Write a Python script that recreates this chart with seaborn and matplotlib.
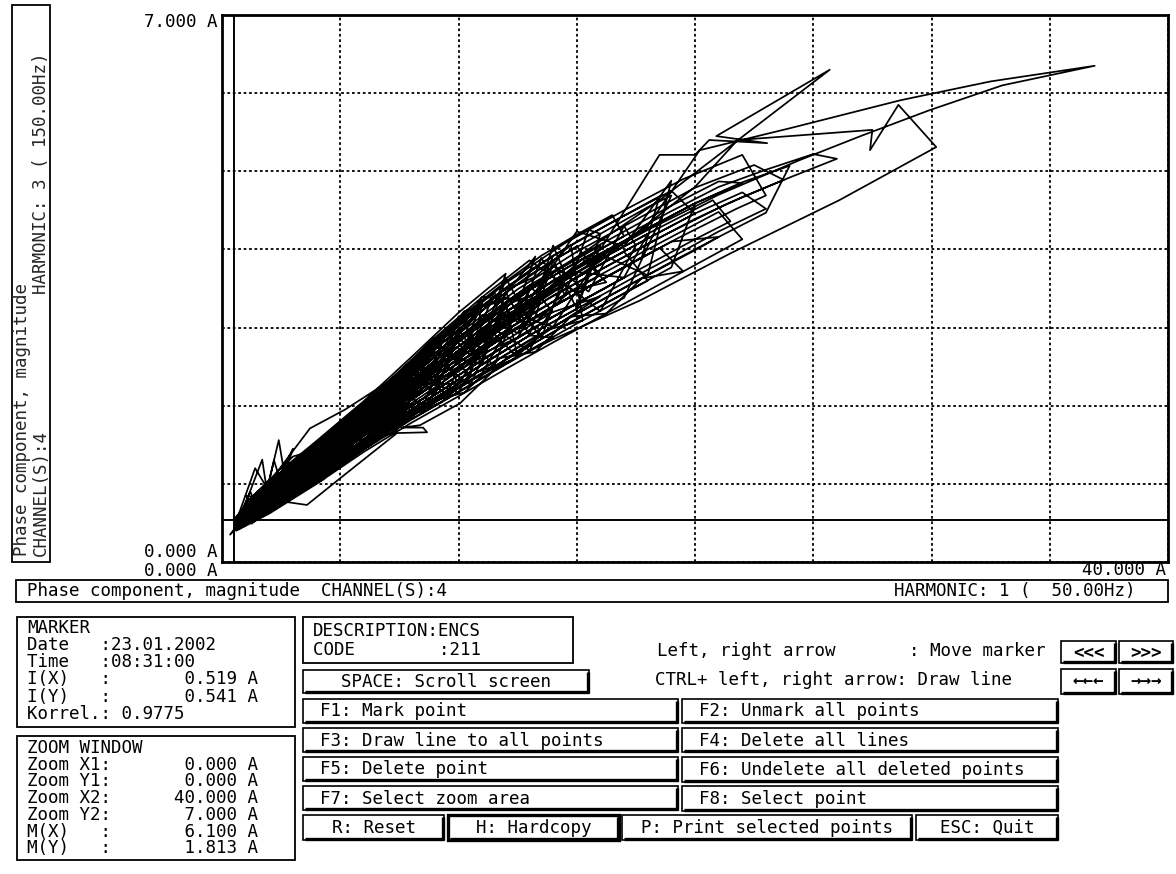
import numpy as np
import pandas as pd
import matplotlib
matplotlib.use("Agg")
import matplotlib.pyplot as plt
from matplotlib.patches import Rectangle
import seaborn as sns

# ---------------- data (A) : harmonic 1 current (x) vs harmonic 3 current (y) ----------------
day_01 = ([0.6, 2, 4, 6, 8, 10, 9, 7, 5, 3, 1.5],
          [0.56, 1.00, 1.50, 2.00, 2.54, 3.09, 2.53, 2.04, 1.56, 1.10, 0.76])
day_02 = ([0.6, 2, 4, 6, 8, 10, 12, 14, 13, 11, 9, 7, 5, 3, 1.5],
          [0.45, 0.75, 1.17, 1.61, 2.03, 2.44, 2.84, 3.20, 3.54, 3.11, 2.63, 2.11, 1.62, 1.15, 0.80])
day_03 = ([0.6, 2, 4, 6, 8, 10, 12, 14, 16, 18, 17, 15, 13, 11, 9, 7, 5, 3, 1.5],
          [0.42, 0.66, 1.06, 1.48, 1.86, 2.23, 2.59, 2.94, 3.27, 3.60, 3.97, 3.64, 3.29, 2.88, 2.44, 1.97, 1.50, 1.05, 0.73])
day_04 = ([0.6, 2, 4, 6, 8, 10, 12, 14, 16, 15, 13, 11, 9, 7, 5, 3, 1.5],
          [0.53, 0.92, 1.39, 1.87, 2.37, 2.87, 3.32, 3.70, 4.05, 3.24, 2.90, 2.53, 2.14, 1.76, 1.32, 0.90, 0.61])
day_05 = ([0.6, 2, 4, 6, 8, 10, 12, 14, 16, 18, 20, 19, 17, 15, 13, 11, 9, 7, 5, 3, 1.5],
          [0.49, 0.84, 1.28, 1.74, 2.20, 2.66, 3.08, 3.47, 3.81, 4.14, 4.46, 4.75, 4.43, 4.10, 3.73, 3.28, 2.77, 2.22, 1.71, 1.23, 0.86])
day_06 = ([0.6, 2, 4, 6, 8, 10, 12, 14, 16, 18, 20, 22, 21, 19, 17, 15, 13, 11, 9, 7, 5, 3, 1.5],
          [0.40, 0.62, 1.00, 1.41, 1.78, 2.12, 2.47, 2.81, 3.14, 3.47, 3.80, 4.13, 4.48, 4.16, 3.84, 3.51, 3.16, 2.76, 2.34, 1.90, 1.44, 1.00, 0.69])
day_07 = ([0.6, 2, 2.4, 2.6, 4, 6, 8, 10, 12, 11, 9, 7, 5, 3, 1.5],
          [0.58, 1.05, 1.56, 1.20, 1.55, 2.06, 2.62, 3.19, 3.69, 2.82, 2.39, 1.94, 1.47, 1.03, 0.71])
day_08 = ([0.6, 2, 4, 6, 8, 10, 12, 14, 16, 18, 20, 22, 24, 23, 21, 19, 17, 15, 13, 11, 9, 7, 5, 3, 1.5],
          [0.51, 0.88, 1.33, 1.80, 2.28, 2.76, 3.20, 3.60, 3.95, 4.27, 4.59, 4.86, 5.07, 4.47, 4.16, 3.84, 3.51, 3.18, 2.84, 2.47, 2.10, 1.73, 1.29, 0.88, 0.59])
day_09 = ([0.6, 2, 4, 6, 8, 10, 12, 14, 15, 13, 11, 9, 7, 5, 3, 1.5],
          [0.46, 0.77, 1.19, 1.64, 2.07, 2.49, 2.90, 3.27, 3.44, 3.86, 3.39, 2.87, 2.29, 1.77, 1.28, 0.90])
day_10 = ([0.6, 2, 4, 6, 8, 10, 12, 14, 16, 18, 19, 17, 15, 13, 11, 9, 7, 5, 3, 1.5],
          [0.54, 0.96, 1.44, 1.93, 2.45, 2.98, 3.45, 3.86, 4.20, 4.54, 4.69, 3.38, 3.05, 2.71, 2.36, 2.00, 1.66, 1.23, 0.83, 0.55])
day_11 = ([0.6, 1.7, 2, 4, 6, 8, 10, 11, 9, 7, 5, 3, 1.5],
          [0.44, 1.31, 0.71, 1.11, 1.54, 1.95, 2.33, 2.53, 2.68, 2.15, 1.65, 1.18, 0.82])
day_12 = ([0.6, 2, 4, 6, 8, 10, 12, 14, 16, 18, 20, 22, 24, 26, 25, 23, 21, 19, 17, 15, 13, 11, 9, 7, 5, 3, 1.5],
          [0.48, 0.81, 1.25, 1.70, 2.16, 2.60, 3.02, 3.41, 3.74, 4.07, 4.39, 4.67, 4.92, 5.16, 5.22, 5.02, 4.80, 4.49, 4.17, 3.84, 3.48, 3.05, 2.58, 2.08, 1.59, 1.13, 0.78])
day_13 = ([0.6, 2, 4, 6, 8, 10, 12, 14, 16, 17, 15, 13, 11, 9, 7, 5, 3, 1.5],
          [0.45, 0.73, 1.14, 1.57, 1.99, 2.39, 2.77, 3.14, 3.47, 3.64, 3.71, 3.35, 2.93, 2.48, 2.01, 1.53, 1.08, 0.74])
day_14 = ([0.6, 1.4, 2, 4, 6, 8, 10, 12, 13, 11, 9, 7, 5, 3, 1.5],
          [0.52, 1.20, 0.90, 1.36, 1.83, 2.33, 2.82, 3.26, 3.48, 2.42, 2.05, 1.69, 1.26, 0.85, 0.57])
day_15 = ([0.6, 2, 4, 6, 8, 10, 12, 14, 16, 18, 20, 21, 19, 17, 15, 13, 11, 9, 7, 5, 3, 1.5],
          [0.43, 0.68, 1.08, 1.51, 1.91, 2.28, 2.65, 3.01, 3.34, 3.67, 3.99, 4.16, 4.10, 3.77, 3.44, 3.09, 2.70, 2.29, 1.87, 1.41, 0.98, 0.67])
day_16 = ([0.6, 2, 4, 6, 8, 9, 7, 5, 3, 1.5],
          [0.57, 1.03, 1.52, 2.03, 2.58, 2.87, 2.01, 1.53, 1.08, 0.74])
day_17 = ([0.6, 2, 4, 6, 8, 10, 12, 14, 16, 18, 17, 15, 13, 11, 9, 7, 5, 3, 1.5],
          [0.50, 0.86, 1.30, 1.77, 2.24, 2.71, 3.14, 3.54, 3.88, 4.20, 3.64, 3.31, 2.97, 2.59, 2.19, 1.80, 1.35, 0.93, 0.63])
day_18 = ([0.6, 2, 4, 6, 7, 5, 3, 1.5],
          [0.54, 0.94, 1.41, 1.90, 2.15, 1.38, 0.95, 0.65])
day_19 = ([0.6, 2, 4, 6, 8, 10, 12, 14, 16, 15, 13, 11, 9, 7, 5, 3, 1.5],
          [0.47, 0.79, 1.22, 1.67, 2.12, 2.55, 2.96, 3.33, 3.67, 4.04, 3.67, 3.22, 2.73, 2.18, 1.68, 1.20, 0.84])
day_20 = ([0.6, 2, 4, 6, 8, 10, 12, 14, 13, 11, 9, 7, 5, 3, 1.5],
          [0.41, 0.64, 1.03, 1.44, 1.82, 2.17, 2.53, 2.87, 2.90, 2.53, 2.14, 1.76, 1.32, 0.90, 0.61])
day_21 = ([0.7, 3, 6, 9, 12, 15, 18, 20.2, 24.0, 28.7, 32.5, 36.9, 33.0, 29.9, 27.0, 24.4, 21, 18, 15, 12, 8, 4, 1.2],
          [0.50, 1.05, 1.74, 2.44, 3.10, 3.70, 4.30, 5.27, 5.55, 5.91, 6.15, 6.35, 6.10, 5.78, 5.45, 5.14, 4.70, 4.25, 3.75, 3.10, 2.20, 1.25, 0.62])
day_22 = ([0.8, 4, 8, 12, 16, 18.5, 20.0, 20.6, 23.05, 20.9, 25.7, 18.5, 15, 12, 8, 4, 1.0],
          [0.52, 1.40, 2.30, 3.10, 4.00, 5.21, 5.21, 5.40, 5.36, 5.45, 6.30, 4.63, 3.90, 3.30, 2.40, 1.40, 0.60])
day_23 = ([0.7, 4, 8, 12, 16, 20, 21.8, 27.5, 27.4, 28.6, 30.2, 26.1, 21.5, 17.7, 14, 10, 6, 3, 1.0],
          [0.48, 1.35, 2.25, 3.05, 3.85, 4.80, 5.40, 5.53, 5.27, 5.85, 5.31, 4.63, 3.95, 3.35, 2.85, 2.25, 1.55, 0.95, 0.55])
day_24 = ([0.34, 0.97, 2.45, 3.59, 4.99, 7.40, 8.67, 8.50, 7.60, 8.37, 10.06, 12, 14, 16, 13, 10, 7, 4, 1.0],
          [0.35, 0.60, 0.78, 0.73, 1.07, 1.65, 1.66, 1.72, 1.72, 1.75, 2.03, 2.60, 3.00, 3.40, 3.10, 2.55, 1.90, 1.20, 0.55])
day_25 = ([0.6, 2.2, 3.72, 5.2, 7, 9, 11, 10, 8, 6, 4, 2, 0.6],
          [0.45, 1.10, 1.71, 1.95, 2.30, 2.80, 3.30, 2.90, 2.45, 1.85, 1.30, 0.80, 0.42])
day_26 = ([0.6, 2, 4, 6, 8, 10, 12, 14, 13, 11, 9, 7, 5, 3, 1.5],
          [0.55, 0.99, 1.47, 1.96, 2.49, 3.03, 3.51, 3.92, 3.16, 2.76, 2.34, 1.90, 1.44, 1.00, 0.69])
day_27 = ([0.6, 2, 4, 6, 8, 10, 9, 7, 5, 3, 1.5],
          [0.43, 0.68, 1.08, 1.51, 1.91, 2.28, 2.82, 2.25, 1.74, 1.25, 0.88])
day_28 = ([0.6, 2, 4, 6, 8, 10, 12, 14, 16, 18, 20, 22, 21, 19, 17, 15, 13, 11, 9, 7, 5, 3, 1.5],
          [0.51, 0.88, 1.33, 1.80, 2.28, 2.76, 3.20, 3.60, 3.94, 4.27, 4.59, 4.85, 4.87, 4.56, 4.23, 3.90, 3.54, 3.11, 2.63, 2.11, 1.62, 1.15, 0.80])
day_29 = ([1, 2, 3, 4, 5, 6, 7, 8, 9, 10, 11, 12, 13, 14, 15, 16,
           15.5, 14.5, 13.5, 12.5, 11.5, 10.5, 9.5, 8.5, 7.5, 6.5, 5.5, 4.5, 3.5, 2.5, 1.5],
          [0.51, 0.96, 0.90, 1.44, 1.32, 1.93, 1.76, 2.45, 2.14, 2.98, 2.53, 3.45, 2.90, 3.86, 3.24, 4.20,
           4.25, 3.42, 3.89, 3.06, 3.45, 2.65, 2.95, 2.22, 2.39, 1.78, 1.87, 1.33, 1.38, 0.90, 0.86])
day_30 = ([1.5, 2.5, 3.5, 4.5, 5.5, 6.5, 7.5, 8.5, 9.5, 10.5, 11.5, 12.5, 13.5, 14.5,
           14, 13, 12, 11, 10, 9, 8, 7, 6, 5, 4, 3, 2, 1],
          [0.57, 0.99, 0.95, 1.45, 1.36, 1.92, 1.78, 2.41, 2.13, 2.88, 2.50, 3.30, 2.86, 3.69,
           4.05, 3.09, 3.63, 2.70, 3.14, 2.29, 2.58, 1.87, 2.03, 1.41, 1.52, 0.98, 1.03, 0.56])
day_31 = ([1, 2.5, 4, 5.5, 7, 8.5, 10, 11.5, 13, 14.5, 16, 17.5,
           17, 15.5, 14, 12.5, 11, 9.5, 8, 6.5, 5, 3.5, 2, 0.8],
          [0.47, 0.95, 1.03, 1.62, 1.66, 2.32, 2.17, 2.98, 2.71, 3.56, 3.21, 4.05,
           4.30, 3.46, 3.79, 2.93, 3.16, 2.34, 2.41, 1.71, 1.65, 1.06, 0.94, 0.49])
day_32 = ([1, 3, 5, 7, 9, 11, 13, 15, 17, 19, 18, 16, 14, 12, 10, 8, 6, 4, 2, 0.7],
          [0.75, 1.35, 1.53, 2.29, 2.48, 3.39, 3.35, 4.23, 4.04, 4.88, 3.67, 3.94, 3.01, 3.20, 2.28, 2.28, 1.51, 1.33, 0.68, 0.45])
day_33 = ([1.5, 2.5, 3.5, 4.5, 5.5, 6.5, 7.5, 8.5, 9.5, 10.5, 11.5, 12.5,
           12, 11, 10, 9, 8, 7, 6, 5, 4, 3, 2, 1],
          [0.70, 0.73, 1.14, 1.13, 1.58, 1.54, 2.05, 1.91, 2.49, 2.27, 2.92, 2.62,
           3.32, 2.59, 2.87, 2.19, 2.37, 1.80, 1.87, 1.35, 1.39, 0.93, 0.92, 0.53])
day_34 = ([1, 2, 3, 4, 5, 6, 7, 8, 9, 10, 11,
           10.5, 9.5, 8.5, 7.5, 6.5, 5.5, 4.5, 3.5, 2.5, 1.5],
          [0.85, 0.79, 1.25, 1.22, 1.74, 1.67, 2.25, 2.12, 2.82, 2.55, 3.34,
           2.38, 2.69, 2.00, 2.20, 1.61, 1.71, 1.19, 1.24, 0.78, 0.77])
day_35 = ([0.6, 1.2, 1.4, 1.9, 2.2, 2.5, 3.0, 2.0, 1.0],
          [0.50, 0.90, 0.75, 0.92, 1.30, 1.00, 1.45, 0.85, 0.50])
day_36 = ([1.25, 2.75, 4.25, 5.75, 7.25, 8.75, 10.25, 11.75, 13.25, 14.75, 16.25,
           15.25, 13.75, 12.25, 10.75, 9.25, 7.75, 6.25, 4.75, 3.25, 1.75],
          [0.59, 0.95, 1.22, 1.62, 1.88, 2.29, 2.50, 2.91, 3.07, 3.47, 3.58,
           3.88, 3.49, 3.32, 2.88, 2.64, 2.19, 1.90, 1.47, 1.18, 0.80])
day_37 = ([1.75, 3.25, 4.75, 6.25, 7.75, 9.25, 10.75, 12.25, 13.75, 15.25,
           14.75, 13.25, 11.75, 10.25, 8.75, 7.25, 5.75, 4.25, 2.75, 1.25],
          [0.64, 0.88, 1.24, 1.49, 1.86, 2.04, 2.43, 2.58, 2.97, 3.09,
           4.06, 3.65, 3.45, 2.99, 2.71, 2.22, 1.90, 1.47, 1.17, 0.75])
day_38 = ([1.5, 3.5, 5.5, 7.5, 9.5, 11.5, 13.5, 12.5, 10.5, 8.5, 6.5, 4.5, 2.5, 1.0],
          [0.72, 1.22, 1.62, 2.16, 2.54, 3.09, 3.38, 2.87, 2.60, 2.09, 1.75, 1.25, 0.87, 0.52])
day_39 = ([1.25, 2.75, 4.25, 5.75, 7.25, 8.75, 10.25, 11.75, 13.25,
           12.25, 10.75, 9.25, 7.75, 6.25, 4.75, 3.25, 1.75, 0.8],
          [0.81, 1.12, 1.58, 1.84, 2.36, 2.62, 3.21, 3.33, 3.91,
           3.08, 2.77, 2.44, 2.10, 1.76, 1.42, 1.08, 0.76, 0.50])
day_40 = ([1.25, 2.75, 4.25, 5.75, 7.25, 8.75, 10.25, 11.75, 13.25, 14.75, 16.25, 17.75, 19.5,
           18.5, 16.75, 15.25, 13.75, 12.25, 10.75, 9.25, 7.75, 6.25, 4.75, 3.25, 1.75],
          [0.49, 0.83, 1.05, 1.46, 1.66, 2.05, 2.17, 2.61, 2.69, 3.14, 3.18, 3.63, 3.72,
           4.02, 3.73, 3.48, 3.23, 2.95, 2.66, 2.34, 2.02, 1.69, 1.36, 1.03, 0.72])
day_41 = ([1, 2.5, 4, 5.5, 7, 8.5, 10, 11.5, 13, 14.5, 16, 17,
           16.5, 15, 13.5, 12, 10.5, 9, 7.5, 6, 4.5, 3, 1.5],
          [0.65, 1.02, 1.36, 1.71, 2.08, 2.45, 2.82, 3.15, 3.48, 3.75, 4.00, 4.17,
           4.44, 4.19, 3.92, 3.59, 3.23, 2.84, 2.41, 2.01, 1.63, 1.26, 0.87])
day_42 = ([1.5, 3, 4.5, 6, 7.5, 9, 10.5, 12, 13.5, 15, 16.5, 18, 19.5, 21, 23,
           22, 20, 18, 16, 14, 12, 10, 8, 6, 4, 2, 0.8],
          [0.60, 0.90, 1.22, 1.54, 1.85, 2.14, 2.43, 2.71, 2.99, 3.24, 3.49, 3.74, 3.98, 4.23, 4.52,
           4.73, 4.46, 4.14, 3.81, 3.47, 3.08, 2.66, 2.20, 1.74, 1.28, 0.84, 0.50])
day_43 = ([1.25, 3.75, 6.25, 8.75, 11.25, 13.75, 16.25, 18.75, 21.25, 23.75,
           22.5, 20, 17.5, 15, 12.5, 10, 7.5, 5, 2.5, 1],
          [0.64, 1.19, 1.76, 2.33, 2.87, 3.36, 3.78, 4.19, 4.57, 4.89,
           5.08, 4.79, 4.38, 3.97, 3.49, 2.92, 2.28, 1.65, 1.06, 0.67])
day_44 = ([0.8, 2.5, 5, 7.5, 10, 12.5, 15, 17.5, 20, 21.5,
           20.75, 18.25, 15.75, 13.25, 10.75, 8.25, 5.75, 3.25, 1.5],
          [0.47, 0.83, 1.35, 1.89, 2.39, 2.87, 3.31, 3.72, 4.13, 4.36,
           4.63, 4.24, 3.83, 3.39, 2.88, 2.30, 1.71, 1.13, 0.73])
day_45 = ([1, 3.5, 6, 8.5, 11, 13.5, 16, 18, 20,
           19, 17, 14.5, 12, 9.5, 7, 4.5, 2, 0.7],
          [0.63, 1.22, 1.80, 2.41, 2.99, 3.50, 3.94, 4.27, 4.59,
           3.77, 3.44, 3.03, 2.59, 2.13, 1.69, 1.16, 0.66, 0.42])
day_46 = ([1.5, 4, 6.5, 9, 11.5, 14, 16.5, 18.5,
           17.75, 15.25, 12.75, 10.25, 7.75, 5.25, 2.75, 1.0],
          [0.84, 1.47, 2.09, 2.77, 3.39, 3.92, 4.35, 4.68,
           3.90, 3.48, 3.05, 2.55, 2.02, 1.47, 0.93, 0.55])
day_47 = ([1.75, 4.25, 6.75, 9.25, 11.75, 14.25, 16.75, 19.25, 21.75, 23,
           22, 19.5, 17, 14.5, 12, 9.5, 7, 4.5, 2, 0.8],
          [0.72, 1.25, 1.81, 2.34, 2.85, 3.31, 3.73, 4.14, 4.52, 4.69,
           5.21, 4.90, 4.50, 4.08, 3.57, 2.95, 2.25, 1.62, 1.01, 0.55])

days = [day_01, day_29, day_36, day_02, day_43, day_03, day_30, day_04, day_37, day_05,
        day_06, day_44, day_31, day_07, day_08, day_38, day_09, day_32, day_45, day_10,
        day_11, day_39, day_12, day_33, day_13, day_40, day_46, day_14, day_15, day_34,
        day_16, day_41, day_17, day_18, day_47, day_35, day_19, day_20, day_42, day_21,
        day_22, day_23, day_24, day_25, day_26, day_27, day_28]

X_RANGE = (0.0, 40.0)
Y_RANGE = (0.0, 7.0)
X_GRID_STEP = 5
Y_GRID_STEP = 1
MARKER_X = 0.519
MARKER_Y = 0.541
X_TICK_LABELS = ["0.000 A", "40.000 A"]
Y_TICK_LABELS = ["0.000 A", "7.000 A"]

Y_TITLE_1 = "Phase component, magnitude"
Y_TITLE_CH = "CHANNEL(S):4"
Y_TITLE_H = "HARMONIC: 3 ( 150.00Hz)"
X_TITLE_L = "Phase component, magnitude  CHANNEL(S):4"
X_TITLE_R = "HARMONIC: 1 (  50.00Hz)"

MARKER_LINES = ["MARKER", "Date   :23.01.2002", "Time   :08:31:00",
                ("I(X)   :", "0.519 A"), ("I(Y)   :", "0.541 A"), "Korrel.: 0.9775"]
ZOOM_LINES = ["ZOOM WINDOW", ("Zoom X1:", "0.000 A"), ("Zoom Y1:", "0.000 A"),
              ("Zoom X2:", "40.000 A"), ("Zoom Y2:", "7.000 A"),
              ("M(X)   :", "6.100 A"), ("M(Y)   :", "1.813 A")]
DESC_LINES = ["DESCRIPTION:ENCS", "CODE        :211"]

# ---------------- build long table ----------------
frames = []
for xs, ys in days:
    frames.append(pd.DataFrame({"x": xs, "y": ys}))
df = pd.concat(frames, ignore_index=True)

sns.set_style("white")
MONO = ["DejaVu Sans Mono"]
plt.rcParams["font.family"] = MONO
FS = 12.6

W, H = 1176, 874
fig = plt.figure(figsize=(W / 100, H / 100), dpi=100)
fig.patch.set_facecolor("white")


def frac(l, t, r, b):
    return [l / W, 1 - b / H, (r - l) / W, (b - t) / H]


ax = fig.add_axes(frac(222, 15, 1168, 562))
sns.lineplot(data=df, x="x", y="y", sort=False, estimator=None, color="black",
             lw=1.25, ax=ax, zorder=3)
ax.set_xlim(*X_RANGE)
ax.set_ylim(*Y_RANGE)
ax.set_xticks(np.arange(X_RANGE[0], X_RANGE[1] + 0.1, X_GRID_STEP))
ax.set_yticks(np.arange(Y_RANGE[0], Y_RANGE[1] + 0.1, Y_GRID_STEP))
ax.grid(True, color="black", linestyle=(0, (1.5, 1.5)), lw=1.3)
ax.set_axisbelow(True)
ax.tick_params(length=0, labelbottom=False, labelleft=False)
ax.set_xlabel("")
ax.set_ylabel("")
for s in ax.spines.values():
    s.set_linewidth(2.0)
    s.set_color("black")
ax.axvline(MARKER_X, color="black", lw=1.4, zorder=4)
ax.axhline(MARKER_Y, color="black", lw=1.4, zorder=4)

# ---------------- UI overlay in pixel coordinates ----------------
ui = fig.add_axes([0, 0, 1, 1])
ui.set_xlim(0, W)
ui.set_ylim(H, 0)
ui.axis("off")
ui.patch.set_alpha(0)


def txt(x, y, s, ha="left", va="center", **kw):
    ui.text(x, y, s, ha=ha, va=va, fontsize=FS, family=MONO, color="black", **kw)


def box(l, t, r, b, lw=1.3):
    ui.add_patch(Rectangle((l, t), r - l, b - t, fill=False, ec="black", lw=lw))


def button(l, t, r, b, label, align="center", pad=17, thick=False, bold=False):
    box(l, t, r, b, lw=2.4 if thick else 1.2)
    ui.plot([r - 1.5, r - 1.5], [t + 2, b], color="black", lw=2.4, solid_capstyle="butt")
    ui.plot([l + 2, r], [b - 1.5, b - 1.5], color="black", lw=2.4, solid_capstyle="butt")
    cy = (t + b) / 2 + 0.5
    if align == "center":
        txt((l + r) / 2, cy, label, ha="center", fontweight="bold" if bold else "normal")
    else:
        txt(l + pad, cy, label)


def block(lines, width=22):
    out = []
    for line in lines:
        if isinstance(line, tuple):
            out.append(line[0] + line[1].rjust(width - len(line[0])))
        else:
            out.append(line)
    return "\n".join(out)


# axis value labels
txt(218, 22, Y_TICK_LABELS[1], ha="right")
txt(218, 552, Y_TICK_LABELS[0], ha="right")
txt(218, 571, X_TICK_LABELS[0], ha="right")
txt(1166, 570, X_TICK_LABELS[1], ha="right")

# y title box (rotated)
box(12, 5, 50, 562)
ui.text(22, 556, Y_TITLE_1, rotation=90, ha="center", va="bottom", fontsize=FS, family=MONO)
ui.text(41, 556, Y_TITLE_CH, rotation=90, ha="center", va="bottom", fontsize=FS, family=MONO)
ui.text(41, 52, Y_TITLE_H, rotation=90, ha="center", va="top", fontsize=FS, family=MONO)

# x title strip
box(16, 580, 1168, 602)
txt(27, 591, X_TITLE_L)
txt(1135, 591, X_TITLE_R, ha="right")

# marker box
box(17, 617, 295, 727)
txt(27, 619, block(MARKER_LINES), va="top", linespacing=0.94)

# zoom window box
box(17, 736, 295, 860)
txt(27, 739, block(ZOOM_LINES), va="top", linespacing=0.91)

# description box
box(303, 617, 573, 663)
txt(313, 622, "\n".join(DESC_LINES), va="top", linespacing=1.05)

# key hints
txt(657, 651, "Left, right arrow       : Move marker")
txt(655, 680, "CTRL+ left, right arrow: Draw line")

# buttons
button(303, 670, 589, 693, "SPACE: Scroll screen")
button(303, 699, 678, 723, "F1: Mark point", align="left")
button(303, 728, 678, 752, "F3: Draw line to all points", align="left")
button(303, 757, 678, 781, "F5: Delete point", align="left")
button(303, 786, 678, 810, "F7: Select zoom area", align="left")
button(682, 699, 1058, 723, "F2: Unmark all points", align="left")
button(682, 728, 1058, 752, "F4: Delete all lines", align="left")
button(682, 757, 1058, 782, "F6: Undelete all deleted points", align="left")
button(682, 786, 1058, 811, "F8: Select point", align="left")
button(303, 815, 444, 840, "R: Reset")
button(448, 815, 619, 840, "H: Hardcopy", thick=True)
button(622, 815, 912, 840, "P: Print selected points")
button(916, 815, 1058, 840, "ESC: Quit")
button(1061, 641, 1116, 663, "<<<", bold=True)
button(1119, 641, 1173, 663, ">>>", bold=True)
button(1061, 669, 1116, 694, "←←←", bold=True)
button(1119, 669, 1173, 694, "→→→", bold=True)

fig.savefig("out.png", dpi=100, facecolor="white")
